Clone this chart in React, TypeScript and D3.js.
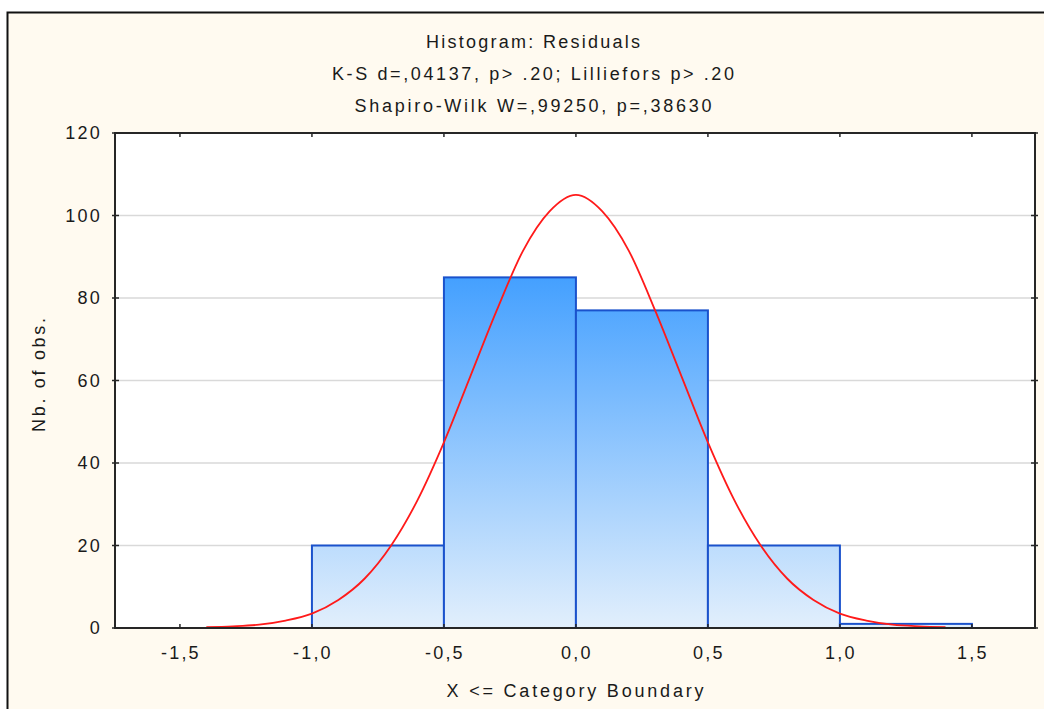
import { useMemo } from "react"
import * as d3 from "d3"

// histogram bins (lower boundary, width 0.5) and counts
const binStarts = [-1.0, -0.5, 0.0, 0.5, 1.0]
const binWidth = 0.5
const counts = [20, 85, 77, 20, 1]

// fitted normal curve
const curveX = [-1.4, -1.3, -1.2, -1.1, -1.0, -0.9, -0.8, -0.7, -0.6, -0.5, -0.4, -0.3, -0.2, -0.1, 0.0,
    0.1, 0.2, 0.3, 0.4, 0.5, 0.6, 0.7, 0.8, 0.9, 1.0, 1.1, 1.2, 1.3, 1.4]
const curveY = [0.2, 0.4, 0.8, 1.8, 3.5, 6.8, 12, 20, 31, 45, 61, 77, 91.5, 101, 105,
    101, 91.5, 77, 61, 45, 31, 20, 12, 6.8, 3.5, 1.8, 0.8, 0.4, 0.2]

const xTicks = [-1.5, -1.0, -0.5, 0.0, 0.5, 1.0, 1.5]
const yTicks = [0, 20, 40, 60, 80, 100, 120]

const titleLines = [
    "Histogram: Residuals",
    "K-S d=,04137, p> .20; Lilliefors p> .20",
    "Shapiro-Wilk W=,99250, p=,38630",
]
const xTitle = "X <= Category Boundary"
const yTitle = "Nb. of obs."

const W = 1044
const H = 709
const plot = { left: 115, right: 1035, top: 133, bottom: 628 }
const font = "'Liberation Sans', Arial, sans-serif"
const ink = "#1a1a1a"

const fmt = (v: number) => d3.format(".1f")(v).replace(".", ",").replace("−", "-")

export default function App() {
    const x = useMemo(() => d3.scaleLinear().domain([-1.746, 1.739]).range([plot.left, plot.right]), [])
    const y = useMemo(() => d3.scaleLinear().domain([0, 120]).range([plot.bottom, plot.top]), [])

    const line = d3.line<number>()
        .x((_, i) => x(curveX[i]))
        .y(d => y(d))
        .curve(d3.curveMonotoneX)

    const titleLens = [214, 402, 357]

    return (
        <div style={{ position: "absolute", left: 0, top: 0 }}>
            <svg width={W} height={H} style={{ display: "block" }}>
                <defs>
                    <linearGradient id="barFill" gradientUnits="userSpaceOnUse"
                        x1={0} x2={0} y1={y(85)} y2={y(0)}>
                        <stop offset="0" stopColor="#44a0ff" />
                        <stop offset="1" stopColor="#e2effc" />
                    </linearGradient>
                    <clipPath id="plotClip">
                        <rect x={plot.left} y={plot.top} width={plot.right - plot.left} height={plot.bottom - plot.top} />
                    </clipPath>
                </defs>

                <rect x={0} y={0} width={W} height={H} fill="#ffffff" />
                <rect x={7.5} y={12.5} width={W + 10} height={H + 10} fill="#fffaf0" stroke="#111" strokeWidth={2} />

                {titleLines.map((t, i) => (
                    <text key={t} x={533} y={48 + i * 32} textAnchor="middle" fontFamily={font} fontSize={18}
                        fill={ink} textLength={titleLens[i]} lengthAdjust="spacing">{t}</text>
                ))}

                <rect x={plot.left} y={plot.top} width={plot.right - plot.left} height={plot.bottom - plot.top} fill="#ffffff" />

                {yTicks.filter(t => t > 0 && t < 120).map(t => (
                    <line key={t} x1={plot.left} x2={plot.right} y1={y(t)} y2={y(t)} stroke="#d9d9d9" strokeWidth={1.5} />
                ))}

                <g clipPath="url(#plotClip)">
                    {binStarts.map((b, i) => (
                        <rect key={b} x={x(b)} y={y(counts[i])} width={x(b + binWidth) - x(b)}
                            height={y(0) - y(counts[i])} fill="url(#barFill)" stroke="#1a52cc" strokeWidth={2} />
                    ))}
                    <path d={line(curveY) ?? ""} fill="none" stroke="#ff1a1a" strokeWidth={1.8} />
                </g>

                <rect x={plot.left} y={plot.top} width={plot.right - plot.left} height={plot.bottom - plot.top}
                    fill="none" stroke="#262626" strokeWidth={2} />

                {xTicks.map(t => (
                    <g key={t}>
                        <line x1={x(t)} x2={x(t)} y1={plot.top} y2={plot.top + 4} stroke="#262626" strokeWidth={1.5} />
                        <line x1={x(t)} x2={x(t)} y1={plot.bottom} y2={plot.bottom - 4} stroke="#262626" strokeWidth={1.5} />
                        <text x={x(t) + 1} y={659} textAnchor="middle" fontFamily={font} fontSize={18}
                            letterSpacing={2.2} fill={ink}>{fmt(t)}</text>
                    </g>
                ))}

                {yTicks.map(t => (
                    <g key={t}>
                        <line x1={plot.left - 3} x2={plot.left + 4} y1={y(t)} y2={y(t)} stroke="#262626" strokeWidth={1.5} />
                        <line x1={plot.right - 4} x2={plot.right + 3} y1={y(t)} y2={y(t)} stroke="#262626" strokeWidth={1.5} />
                        <text x={102} y={y(t) + 6} textAnchor="end" fontFamily={font} fontSize={18}
                            letterSpacing={2.2} fill={ink}>{t}</text>
                    </g>
                ))}

                <text x={575} y={697} textAnchor="middle" fontFamily={font} fontSize={18} fill={ink}
                    textLength={257} lengthAdjust="spacing">{xTitle}</text>
                <text transform={`translate(45,375) rotate(-90)`} textAnchor="middle" fontFamily={font} fontSize={18}
                    fill={ink} textLength={114} lengthAdjust="spacing">{yTitle}</text>
            </svg>
        </div>
    )
}
